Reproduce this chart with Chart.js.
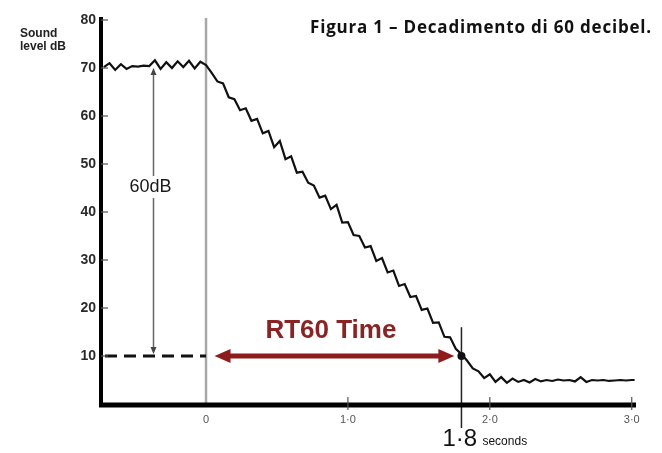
<!DOCTYPE html>
<html>
<head>
<meta charset="utf-8">
<script src="https://cdn.jsdelivr.net/npm/chart.js@4.4.1/dist/chart.umd.min.js"></script>
<style>
  html, body { margin: 0; padding: 0; background: #fff; }
  canvas { display: block; }
</style>
</head>
<body>
<canvas id="c" width="662" height="453"></canvas>
<script>
const times = [
  -0.72, -0.68, -0.64, -0.60, -0.56, -0.52, -0.48, -0.44, -0.40, -0.36,
  -0.32, -0.28, -0.24, -0.20, -0.16, -0.12, -0.08, -0.04, 0.00,
  0.04, 0.08, 0.12, 0.16, 0.20, 0.24, 0.28, 0.32, 0.36, 0.40,
  0.44, 0.48, 0.52, 0.56, 0.60, 0.64, 0.68, 0.72, 0.76, 0.80,
  0.84, 0.88, 0.92, 0.96, 1.00, 1.04, 1.08, 1.12, 1.16, 1.20,
  1.24, 1.28, 1.32, 1.36, 1.40, 1.44, 1.48, 1.52, 1.56, 1.60,
  1.64, 1.68, 1.72, 1.76, 1.80, 1.84, 1.88, 1.92, 1.96, 2.00,
  2.04, 2.08, 2.12, 2.16, 2.20, 2.24, 2.28, 2.32, 2.36, 2.40,
  2.44, 2.48, 2.52, 2.56, 2.60, 2.64, 2.68, 2.72, 2.76, 2.80,
  2.84, 2.88, 2.92, 2.96, 3.00, 3.02
];
const levels = [
  70.2, 71.0, 69.6, 70.8, 69.8, 70.4, 70.3, 70.5, 70.4, 71.6,
  69.8, 71.2, 70.0, 71.4, 70.2, 71.5, 69.9, 71.3, 70.6,
  69.0, 67.2, 66.8, 63.9, 63.5, 61.2, 61.6, 59.0, 59.4, 56.4,
  56.9, 53.5, 54.8, 51.0, 51.6, 48.2, 48.4, 46.1, 45.5, 43.0,
  43.4, 40.6, 41.5, 37.8, 37.9, 35.2, 35.0, 32.6, 32.9, 29.8,
  30.4, 27.4, 27.8, 24.6, 25.0, 22.3, 22.5, 19.6, 19.9, 16.9,
  17.0, 14.0, 13.9, 11.5, 10.4, 9.0, 7.4, 6.8, 5.4, 6.2,
  4.6, 5.6, 4.4, 5.3, 4.6, 5.0, 4.5, 5.2, 4.7, 5.0,
  4.8, 5.1, 4.9, 5.0, 4.7, 5.6, 4.6, 5.0, 4.9, 5.0,
  4.8, 4.9, 5.0, 4.9, 5.0, 5.0
];
const yTicks = [10, 20, 30, 40, 50, 60, 70, 80];
const xTicks = [0, 1, 2, 3];
const xTickLabels = ['0', '1·0', '2·0', '3·0'];

const startDb = 70;
const endDb = 10;
const rt60 = 1.8;
const arrowAt = -0.37;

const titleText = 'Figura 1 – Decadimento di 60 decibel.';

function arrowHead(ctx, x, y, dx, dy, len, half) {
  ctx.beginPath();
  ctx.moveTo(x, y);
  ctx.lineTo(x - dx * len - dy * half, y - dy * len + dx * half);
  ctx.lineTo(x - dx * len + dy * half, y - dy * len - dx * half);
  ctx.closePath();
  ctx.fill();
}

const overlay = {
  id: 'overlay',
  beforeDatasetsDraw(chart) {
    const { ctx, scales: { x, y } } = chart;
    ctx.save();
    // grey line at t = 0
    ctx.strokeStyle = '#a8a8a8';
    ctx.lineWidth = 2.5;
    ctx.beginPath();
    ctx.moveTo(x.getPixelForValue(0), y.getPixelForValue(80) - 2);
    ctx.lineTo(x.getPixelForValue(0), y.getPixelForValue(0));
    ctx.stroke();
    ctx.restore();
  },
  afterDatasetsDraw(chart) {
    const { ctx, chartArea, scales: { x, y } } = chart;
    const left = chartArea.left, bottom = y.getPixelForValue(0);
    ctx.save();

    // dashed 10 dB line up to t = 0
    ctx.strokeStyle = '#111';
    ctx.lineWidth = 3;
    ctx.setLineDash([12, 7]);
    ctx.beginPath();
    ctx.moveTo(left + 4, y.getPixelForValue(endDb));
    ctx.lineTo(x.getPixelForValue(0), y.getPixelForValue(endDb));
    ctx.stroke();
    ctx.setLineDash([]);

    // 60 dB arrow
    const ax = x.getPixelForValue(arrowAt);
    const aTop = y.getPixelForValue(startDb);
    const aBot = y.getPixelForValue(endDb) - 2;
    ctx.strokeStyle = '#666';
    ctx.fillStyle = '#444';
    ctx.lineWidth = 1.5;
    ctx.beginPath();
    ctx.moveTo(ax, aTop + 4);
    ctx.lineTo(ax, aBot - 4);
    ctx.stroke();
    arrowHead(ctx, ax, aTop, 0, -1, 7, 3);
    arrowHead(ctx, ax, aBot, 0, 1, 7, 3);

    ctx.font = '18px "Liberation Sans", Arial, sans-serif';
    ctx.textAlign = 'center';
    ctx.textBaseline = 'middle';
    const ty = y.getPixelForValue(45.2);
    ctx.fillStyle = '#fff';
    ctx.fillRect(ax - 28, ty - 11, 56, 22);
    ctx.fillStyle = '#1a1a1a';
    ctx.fillText('60dB', ax - 3, ty);

    // RT60 double arrow
    const ry = y.getPixelForValue(endDb);
    const rx0 = x.getPixelForValue(0.06);
    const rx1 = x.getPixelForValue(1.75);
    ctx.strokeStyle = '#8e1c1c';
    ctx.fillStyle = '#8e1c1c';
    ctx.lineWidth = 5;
    ctx.beginPath();
    ctx.moveTo(rx0 + 10, ry);
    ctx.lineTo(rx1 - 10, ry);
    ctx.stroke();
    arrowHead(ctx, rx0, ry, -1, 0, 16, 7);
    arrowHead(ctx, rx1, ry, 1, 0, 16, 7);

    ctx.font = 'bold 26px "Liberation Sans", Arial, sans-serif';
    ctx.fillStyle = '#8a2424';
    ctx.fillText('RT60 Time', x.getPixelForValue(0.88), y.getPixelForValue(15.3));

    // 1.8 s marker
    const mx = x.getPixelForValue(rt60);
    ctx.strokeStyle = '#222';
    ctx.lineWidth = 1.5;
    ctx.beginPath();
    ctx.moveTo(mx, y.getPixelForValue(16));
    ctx.lineTo(mx, 428);
    ctx.stroke();
    ctx.fillStyle = '#111';
    ctx.beginPath();
    ctx.arc(mx, y.getPixelForValue(endDb), 4, 0, Math.PI * 2);
    ctx.fill();

    ctx.textAlign = 'left';
    ctx.font = '24px "Liberation Sans", Arial, sans-serif';
    ctx.fillText('1·8', mx - 19, 439);
    ctx.font = '12px "Liberation Sans", Arial, sans-serif';
    ctx.fillText('seconds', mx + 21, 442);

    // axes
    ctx.strokeStyle = '#000';
    ctx.lineWidth = 4;
    ctx.beginPath();
    ctx.moveTo(left, y.getPixelForValue(80) - 3);
    ctx.lineTo(left, bottom + 3);
    ctx.stroke();
    ctx.lineWidth = 5;
    ctx.beginPath();
    ctx.moveTo(left - 2, bottom + 1);
    ctx.lineTo(chartArea.right, bottom + 1);
    ctx.stroke();

    // small inner ticks
    ctx.lineWidth = 1.2;
    ctx.strokeStyle = '#555';
    yTicks.forEach(v => {
      const py = y.getPixelForValue(v);
      ctx.beginPath();
      ctx.moveTo(left, py);
      ctx.lineTo(left + 7, py);
      ctx.stroke();
    });
    xTicks.slice(1).forEach(v => {
      const px = x.getPixelForValue(v);
      ctx.beginPath();
      ctx.moveTo(px, bottom - 7);
      ctx.lineTo(px, bottom + 6);
      ctx.stroke();
    });

    // axis title
    ctx.fillStyle = '#222';
    ctx.font = 'bold 12px "Liberation Sans Narrow", "Liberation Sans", Arial, sans-serif';
    ctx.fillText('Sound', 20, 34);
    ctx.fillText('level dB', 20, 47);

    // figure title
    ctx.textAlign = 'right';
    ctx.fillStyle = '#111';
    ctx.font = '700 17px "Open Sans", sans-serif';
    ctx.letterSpacing = '0.8px';
    ctx.fillText(titleText, 652, 28);

    ctx.restore();
  }
};

new Chart(document.getElementById('c'), {
  type: 'line',
  data: {
    datasets: [{
      data: times.map((t, i) => ({ x: t, y: levels[i] })),
      borderColor: '#111',
      borderWidth: 2.2,
      pointRadius: 0,
      tension: 0,
      fill: false
    }]
  },
  options: {
    responsive: false,
    animation: false,
    layout: { padding: { top: 20, right: 26, left: 0, bottom: 0 } },
    plugins: { legend: { display: false }, tooltip: { enabled: false } },
    scales: {
      x: {
        type: 'linear',
        min: -0.74,
        max: 3.03,
        afterFit: s => { s.height = 49; },
        afterBuildTicks: s => { s.ticks = xTicks.map(v => ({ value: v })); },
        grid: { display: false, drawTicks: false },
        border: { display: false },
        ticks: {
          padding: 9,
          color: '#555',
          font: { family: '"Liberation Sans", Arial, sans-serif', size: 11 },
          callback: (v) => xTickLabels[xTicks.indexOf(v)]
        }
      },
      y: {
        min: 0,
        max: 80,
        afterFit: s => { s.width = 101; },
        afterBuildTicks: s => { s.ticks = yTicks.map(v => ({ value: v })); },
        grid: { display: false, drawTicks: false },
        border: { display: false },
        ticks: {
          padding: 5,
          color: '#2a2a2a',
          font: { family: '"Liberation Sans", Arial, sans-serif', size: 14, weight: 'bold' }
        }
      }
    }
  },
  plugins: [overlay]
});
</script>
</body>
</html>
